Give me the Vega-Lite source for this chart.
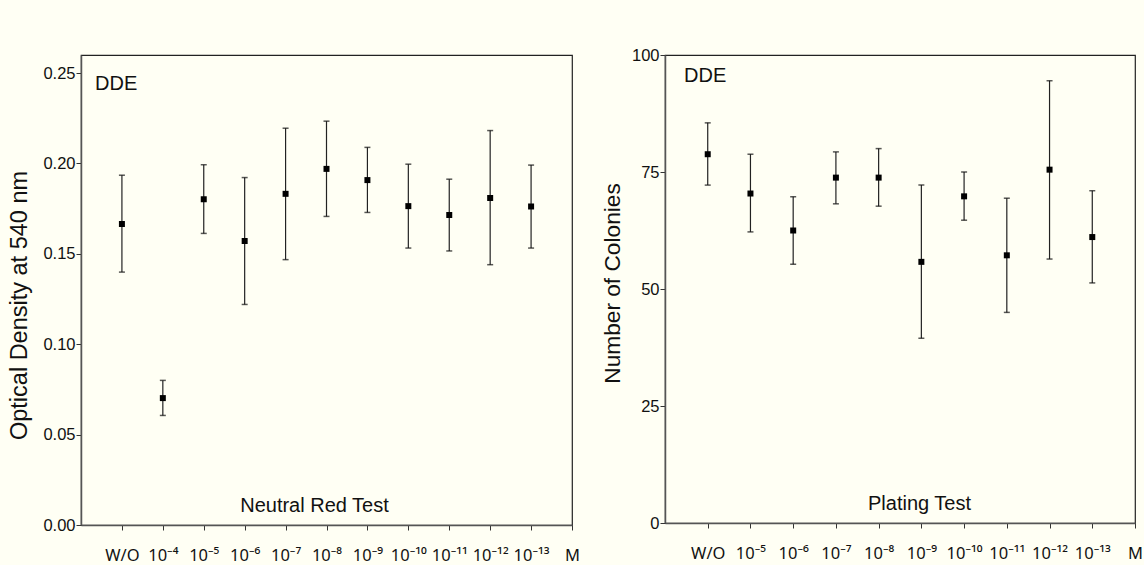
{
  "$schema": "https://vega.github.io/schema/vega-lite/v6.json",
  "background": "#fffff4",
  "padding": {"left": 7, "top": 46, "right": 0, "bottom": 0},
  "datasets": {
    "nr": [
      {"dose": "W/O", "mean": 0.1665, "lo": 0.1399, "hi": 0.1935},
      {"dose": "10⁻⁴", "mean": 0.0702, "lo": 0.0606, "hi": 0.0800},
      {"dose": "10⁻⁵", "mean": 0.1802, "lo": 0.1613, "hi": 0.1993},
      {"dose": "10⁻⁶", "mean": 0.1571, "lo": 0.1220, "hi": 0.1922},
      {"dose": "10⁻⁷", "mean": 0.1832, "lo": 0.1468, "hi": 0.2195},
      {"dose": "10⁻⁸", "mean": 0.1970, "lo": 0.1707, "hi": 0.2234},
      {"dose": "10⁻⁹", "mean": 0.1908, "lo": 0.1729, "hi": 0.2089},
      {"dose": "10⁻¹⁰", "mean": 0.1764, "lo": 0.1532, "hi": 0.1996},
      {"dose": "10⁻¹¹", "mean": 0.1715, "lo": 0.1516, "hi": 0.1913},
      {"dose": "10⁻¹²", "mean": 0.1809, "lo": 0.1440, "hi": 0.2182},
      {"dose": "10⁻¹³", "mean": 0.1762, "lo": 0.1532, "hi": 0.1991}
    ],
    "pt": [
      {"dose": "W/O", "mean": 78.8, "lo": 72.2, "hi": 85.5},
      {"dose": "10⁻⁵", "mean": 70.4, "lo": 62.2, "hi": 78.8},
      {"dose": "10⁻⁶", "mean": 62.5, "lo": 55.3, "hi": 69.7},
      {"dose": "10⁻⁷", "mean": 73.8, "lo": 68.2, "hi": 79.3},
      {"dose": "10⁻⁸", "mean": 73.8, "lo": 67.7, "hi": 80.0},
      {"dose": "10⁻⁹", "mean": 55.8, "lo": 39.5, "hi": 72.2},
      {"dose": "10⁻¹⁰", "mean": 69.8, "lo": 64.7, "hi": 75.0},
      {"dose": "10⁻¹¹", "mean": 57.2, "lo": 45.0, "hi": 69.4},
      {"dose": "10⁻¹²", "mean": 75.5, "lo": 56.4, "hi": 94.5},
      {"dose": "10⁻¹³", "mean": 61.1, "lo": 51.3, "hi": 71.0}
    ]
  },
  "config": {
    "font": "Liberation Sans",
    "view": {"stroke": "#222", "fill": "#fffff4", "strokeWidth": 1.2},
    "axis": {
      "domainColor": "#555",
      "domainWidth": 1.5,
      "tickColor": "#333",
      "labelColor": "#111",
      "titleColor": "#111",
      "grid": false,
      "titleFontWeight": "normal",
      "labelFontSize": 16.5,
      "tickSize": 5
    }
  },
  "bounds": "flush",
  "spacing": 93,
  "hconcat": [
    {
      "width": 491,
      "height": 470,
      "data": {"name": "nr"},
      "title": {"text": "DDE", "anchor": "start", "frame": "group", "orient": "top", "offset": -39, "dx": 14, "fontSize": 20, "fontWeight": "normal", "color": "#111"},
      "encoding": {
        "x": {
          "field": "dose", "type": "nominal",
          "scale": {"type": "point", "domain": ["W/O", "10⁻⁴", "10⁻⁵", "10⁻⁶", "10⁻⁷", "10⁻⁸", "10⁻⁹", "10⁻¹⁰", "10⁻¹¹", "10⁻¹²", "10⁻¹³", "M"], "padding": 0.5, "align": 1},
          "axis": {"title": "Neutral Red Test", "titleY": -14, "titleX": 233, "titleBaseline": "alphabetic", "titleFontSize": 20, "labelAngle": 0, "labelPadding": 17, "labelFontSize": 16.5, "labelFont": "Noto Sans"}
        }
      },
      "layer": [
        {
          "mark": {"type": "rule", "color": "#222", "strokeWidth": 1.2},
          "encoding": {
            "y": {"field": "lo", "type": "quantitative", "scale": {"domain": [0, 0.25]},
              "axis": {"title": "Optical Density at 540 nm", "values": [0, 0.05, 0.1, 0.15, 0.2, 0.25], "format": ".2f", "titleFontSize": 23.5, "titlePadding": 11, "titleY": 250, "labelPadding": 1}},
            "y2": {"field": "hi"}
          }
        },
        {
          "mark": {"type": "tick", "orient": "horizontal", "size": 6, "thickness": 1.5, "color": "#111"},
          "encoding": {"y": {"field": "lo", "type": "quantitative", "title": "Optical Density at 540 nm"}}
        },
        {
          "mark": {"type": "tick", "orient": "horizontal", "size": 6, "thickness": 1.5, "color": "#111"},
          "encoding": {"y": {"field": "hi", "type": "quantitative", "title": "Optical Density at 540 nm"}}
        },
        {
          "mark": {"type": "square", "size": 36, "color": "#000", "opacity": 1},
          "encoding": {"y": {"field": "mean", "type": "quantitative", "title": "Optical Density at 540 nm"}}
        }
      ]
    },
    {
      "width": 470,
      "height": 468,
      "data": {"name": "pt"},
      "title": {"text": "DDE", "anchor": "start", "frame": "group", "orient": "top", "offset": -39, "dx": 19, "fontSize": 20, "fontWeight": "normal", "color": "#111"},
      "encoding": {
        "x": {
          "field": "dose", "type": "nominal",
          "scale": {"type": "point", "domain": ["W/O", "10⁻⁵", "10⁻⁶", "10⁻⁷", "10⁻⁸", "10⁻⁹", "10⁻¹⁰", "10⁻¹¹", "10⁻¹²", "10⁻¹³", "M"], "padding": 0.5, "align": 1},
          "axis": {"title": "Plating Test", "titleY": -14, "titleX": 254, "titleBaseline": "alphabetic", "titleFontSize": 20, "labelAngle": 0, "labelPadding": 17, "labelFontSize": 16.5, "labelFont": "Noto Sans"}
        }
      },
      "layer": [
        {
          "mark": {"type": "rule", "color": "#222", "strokeWidth": 1.2},
          "encoding": {
            "y": {"field": "lo", "type": "quantitative", "scale": {"domain": [0, 100]},
              "axis": {"title": "Number of Colonies", "values": [0, 25, 50, 75, 100], "format": "d", "titleFontSize": 22.7, "titlePadding": 7, "titleY": 228, "labelPadding": 1}},
            "y2": {"field": "hi"}
          }
        },
        {
          "mark": {"type": "tick", "orient": "horizontal", "size": 6, "thickness": 1.5, "color": "#111"},
          "encoding": {"y": {"field": "lo", "type": "quantitative", "title": "Number of Colonies"}}
        },
        {
          "mark": {"type": "tick", "orient": "horizontal", "size": 6, "thickness": 1.5, "color": "#111"},
          "encoding": {"y": {"field": "hi", "type": "quantitative", "title": "Number of Colonies"}}
        },
        {
          "mark": {"type": "square", "size": 36, "color": "#000", "opacity": 1},
          "encoding": {"y": {"field": "mean", "type": "quantitative", "title": "Number of Colonies"}}
        }
      ]
    }
  ]
}
